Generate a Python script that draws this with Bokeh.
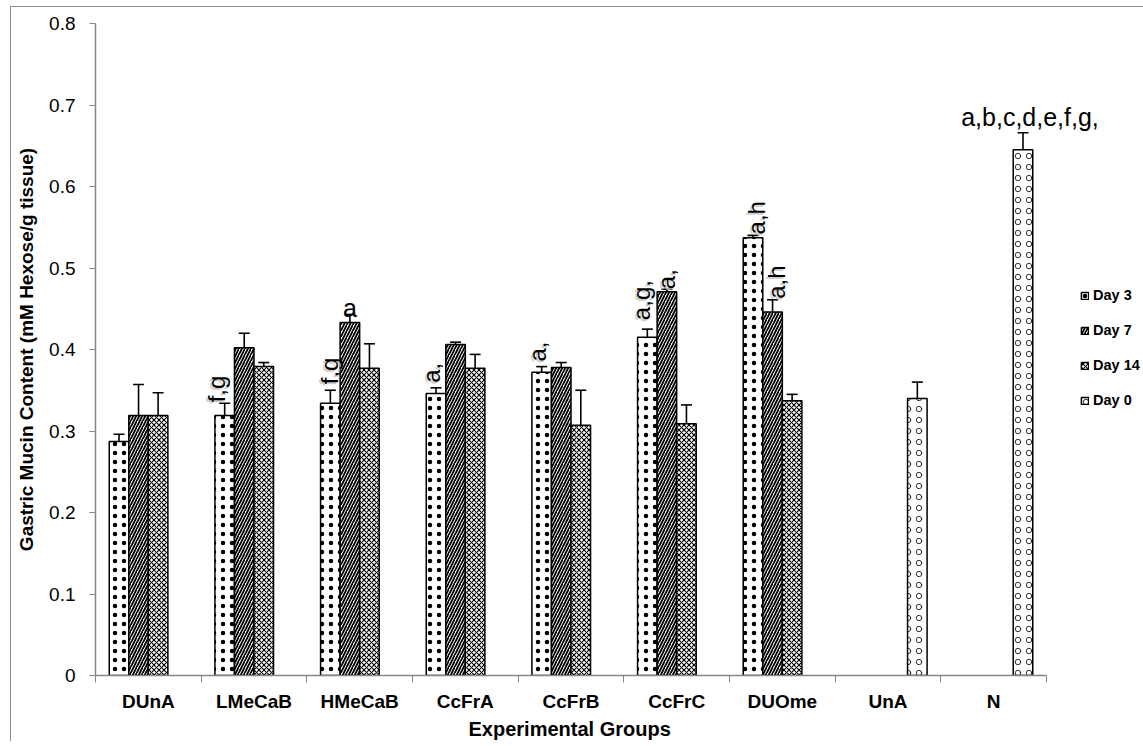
from math import pi
from bokeh.plotting import figure
from bokeh.models import (Range1d, FixedTicker, ColumnDataSource, Whisker, TeeHead,
                          Legend, LegendItem, LabelSet, Title)
from bokeh.core.properties import value
from bokeh.embed import file_html
from bokeh.resources import INLINE

# ---------------- data ----------------
groups = ["DUnA", "LMeCaB", "HMeCaB", "CcFrA", "CcFrB", "CcFrC", "DUOme", "UnA", "N"]
series_names = ["Day 3", "Day 7", "Day 14", "Day 0"]

treated_groups = ["DUnA", "LMeCaB", "HMeCaB", "CcFrA", "CcFrB", "CcFrC", "DUOme"]
day3 = [0.287, 0.319, 0.334, 0.346, 0.372, 0.415, 0.537]
day3_err = [0.009, 0.015, 0.016, 0.007, 0.007, 0.010, 0.003]
day7 = [0.319, 0.402, 0.433, 0.406, 0.378, 0.471, 0.446]
day7_err = [0.038, 0.018, 0.010, 0.003, 0.006, 0.003, 0.015]
day14 = [0.319, 0.379, 0.377, 0.377, 0.307, 0.309, 0.337]
day14_err = [0.028, 0.005, 0.030, 0.017, 0.043, 0.023, 0.008]

control_groups = ["UnA", "N"]
day0 = [0.340, 0.645]
day0_err = [0.020, 0.021]

y_ticks = [0, 0.1, 0.2, 0.3, 0.4, 0.5, 0.6, 0.7, 0.8]

# significance annotations
ann_groups = ["LMeCaB", "HMeCaB", "HMeCaB", "CcFrA", "CcFrB", "CcFrC", "CcFrC", "DUOme", "DUOme", "N"]
ann_series = ["Day 3", "Day 3", "Day 7", "Day 3", "Day 3", "Day 3", "Day 7", "Day 3", "Day 7", "Day 0"]
ann_text = ["f,g", "f,g", "a", "a,", "a,", "a,g,", "a,", "a,h", "a,h", "a,b,c,d,e,f,g,"]

# ---------------- style ----------------
FONT = "Liberation Sans"
GRAY = "#868686"
FRAME_W = 1048          # plot area incl. room on the right for legend/labels
AXIS_W = 951            # width covered by the category axis
bar_w = 0.185
offsets = {"Day 3": -1.5 * bar_w, "Day 7": -0.5 * bar_w, "Day 14": 0.5 * bar_w, "Day 0": 1.5 * bar_w}
hatches = {
    "Day 3": dict(hatch_pattern="dot", hatch_scale=9, hatch_weight=0.8),
    "Day 7": dict(hatch_pattern="/", hatch_scale=6, hatch_weight=1.8),
    "Day 14": dict(hatch_pattern="x", hatch_scale=5, hatch_weight=1.1),
    "Day 0": dict(hatch_pattern="o", hatch_scale=11, hatch_weight=0.8),
}
# annotation style: rotated?, x offset px, gap above error bar px (up positive)
ann_rot = [True, True, False, True, True, True, True, True, True, False]
ann_dx = [-8, -1, 0, -5, -4, -6, 0, 3, 4, 7]
ann_gap = [1, 6, -3, 5, 5, 9, 0, 1, 1, 7]

n = len(groups)
p = figure(frame_width=FRAME_W, frame_height=652,
           x_range=Range1d(0, n * FRAME_W / AXIS_W), y_range=Range1d(0, 0.8),
           output_backend="svg", toolbar_location=None,
           min_border_left=84, min_border_right=0, min_border_top=16, min_border_bottom=66)
p.styles = {"margin-left": "10px", "margin-top": "6px",
            "border-left": "1px solid #8c8c8c", "border-top": "1px solid #8c8c8c"}
p.outline_line_color = None
p.xgrid.visible = False
p.ygrid.visible = False
p.background_fill_color = "white"
p.border_fill_color = "white"

data = {
    "Day 3": (treated_groups, day3, day3_err),
    "Day 7": (treated_groups, day7, day7_err),
    "Day 14": (treated_groups, day14, day14_err),
    "Day 0": (control_groups, day0, day0_err),
}

items = []
tops = {}
for s in series_names:
    grp, vals, errs = data[s]
    xs = [groups.index(g) + 0.5 + offsets[s] for g in grp]
    src = ColumnDataSource(dict(x=xs, top=vals,
                                upper=[v + e for v, e in zip(vals, errs)],
                                lower=[v - e for v, e in zip(vals, errs)]))
    for g, x, v, e in zip(grp, xs, vals, errs):
        tops[(g, s)] = (x, v + e)
    r = p.vbar(x="x", top="top", width=bar_w, source=src, fill_color="white",
               line_color="black", line_width=1.5, hatch_color="black", **hatches[s])
    w = Whisker(source=src, base="x", upper="upper", lower="lower",
                line_color="black", line_width=1.6,
                upper_head=TeeHead(size=11, line_width=1.6, line_color="black"),
                lower_head=TeeHead(size=11, line_width=1.6, line_color="black"))
    p.add_layout(w)
    items.append(LegendItem(label=s, renderers=[r]))

# annotations
rot = dict(x=[], y=[], t=[], dx=[], dy=[])
flat = dict(x=[], y=[], t=[], dx=[], dy=[])
for g, s, t, rr, dx, gap in zip(ann_groups, ann_series, ann_text, ann_rot, ann_dx, ann_gap):
    x, y = tops[(g, s)]
    d = rot if rr else flat
    d["x"].append(x); d["y"].append(y); d["t"].append(t)
    d["dx"].append(dx); d["dy"].append(gap)

shadow = ColumnDataSource(dict(x=rot["x"], y=rot["y"], t=rot["t"],
                               dx=[d - 2 for d in rot["dx"]], dy=[d - 2 for d in rot["dy"]]))
p.add_layout(LabelSet(x="x", y="y", text="t", source=shadow, angle=pi / 2,
                      text_align="left", text_baseline="middle", x_offset="dx", y_offset="dy",
                      text_font=value(FONT), text_font_size=value("24px"),
                      text_color="#c4c4c4", text_alpha=0.8))
p.add_layout(LabelSet(x="x", y="y", text="t", source=ColumnDataSource(rot), angle=pi / 2,
                      text_align="left", text_baseline="middle", x_offset="dx", y_offset="dy",
                      text_font=value(FONT), text_font_size=value("24px"), text_color="black"))
p.add_layout(LabelSet(x="x", y="y", text="t", source=ColumnDataSource(flat),
                      text_align="center", text_baseline="alphabetic", x_offset="dx", y_offset="dy",
                      text_font=value(FONT), text_font_size=value("25px"), text_color="black"))

# axes
xa = p.xaxis[0]
xa.bounds = (0, n)
xa.ticker = FixedTicker(ticks=[i + 0.5 for i in range(n)], minor_ticks=list(range(n + 1)))
xa.major_label_overrides = {i + 0.5: g for i, g in enumerate(groups)}
xa.major_tick_out = 0
xa.major_tick_in = 0
xa.minor_tick_out = 7
xa.minor_tick_in = 0
xa.minor_tick_line_color = GRAY
xa.axis_line_color = GRAY
xa.axis_line_width = 1.5
xa.major_label_text_font = FONT
xa.major_label_text_font_style = "bold"
xa.major_label_text_font_size = "19px"
xa.major_label_text_color = "black"
xa.major_label_standoff = 8

# x-axis title centred under the category axis (which ends before the legend area)
p.add_layout(Title(text="Experimental Groups", align="left", offset=373, standoff=2,
                   text_font=FONT, text_font_style="bold", text_font_size="20px",
                   text_color="black"), "below")

ya = p.yaxis[0]
ya.ticker = FixedTicker(ticks=y_ticks, minor_ticks=[])
ya.major_label_overrides = {0: "0"}
ya.major_tick_out = 6
ya.major_tick_in = 0
ya.major_tick_line_color = GRAY
ya.axis_line_color = GRAY
ya.axis_line_width = 1.5
ya.major_label_text_font = FONT
ya.major_label_text_font_size = "19px"
ya.major_label_text_color = "black"
ya.major_label_standoff = 14
ya.axis_label = "Gastric Mucin Content (mM Hexose/g tissue)"
ya.axis_label_text_font = FONT
ya.axis_label_text_font_style = "bold"
ya.axis_label_text_font_size = "19px"
ya.axis_label_text_color = "black"
ya.axis_label_standoff = 9

legend = Legend(items=items, location=(985, 265), border_line_color=None,
                background_fill_alpha=0, margin=0, padding=3, spacing=15,
                glyph_width=9, glyph_height=9, label_standoff=4, label_height=20,
                label_text_font=FONT, label_text_font_style="bold",
                label_text_font_size="14.5px", label_text_color="black")
p.add_layout(legend)

open("out.html", "w").write(file_html(p, INLINE))
